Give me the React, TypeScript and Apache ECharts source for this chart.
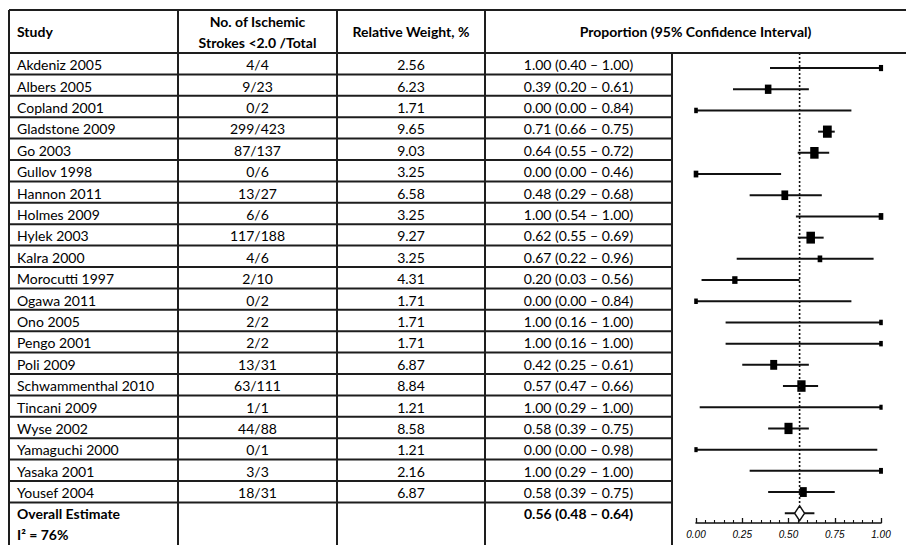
import React, { useEffect, useRef } from "react";
import * as echarts from "echarts";

const studies = [
  "Akdeniz 2005", "Albers 2005", "Copland 2001", "Gladstone 2009", "Go 2003", "Gullov 1998",
  "Hannon 2011", "Holmes 2009", "Hylek 2003", "Kalra 2000", "Morocutti 1997", "Ogawa 2011",
  "Ono 2005", "Pengo 2001", "Poli 2009", "Schwammenthal 2010", "Tincani 2009", "Wyse 2002",
  "Yamaguchi 2000", "Yasaka 2001", "Yousef 2004",
];
const strokesTotal = [
  "4/4", "9/23", "0/2", "299/423", "87/137", "0/6", "13/27", "6/6", "117/188", "4/6", "2/10",
  "0/2", "2/2", "2/2", "13/31", "63/111", "1/1", "44/88", "0/1", "3/3", "18/31",
];
const relWeight = [
  2.56, 6.23, 1.71, 9.65, 9.03, 3.25, 6.58, 3.25, 9.27, 3.25, 4.31, 1.71, 1.71, 1.71, 6.87,
  8.84, 1.21, 8.58, 1.21, 2.16, 6.87,
];
const propText = [
  "1.00 (0.40 – 1.00)", "0.39 (0.20 – 0.61)", "0.00 (0.00 – 0.84)", "0.71 (0.66 – 0.75)",
  "0.64 (0.55 – 0.72)", "0.00 (0.00 – 0.46)", "0.48 (0.29 – 0.68)", "1.00 (0.54 – 1.00)",
  "0.62 (0.55 – 0.69)", "0.67 (0.22 – 0.96)", "0.20 (0.03 – 0.56)", "0.00 (0.00 – 0.84)",
  "1.00 (0.16 – 1.00)", "1.00 (0.16 – 1.00)", "0.42 (0.25 – 0.61)", "0.57 (0.47 – 0.66)",
  "1.00 (0.29 – 1.00)", "0.58 (0.39 – 0.75)", "0.00 (0.00 – 0.98)", "1.00 (0.29 – 1.00)",
  "0.58 (0.39 – 0.75)",
];
// values as drawn in the plot panel
const plotEst = [1.0, 0.39, 0.0, 0.71, 0.64, 0.0, 0.48, 1.0, 0.62, 0.67, 0.21, 0.0, 1.0, 1.0, 0.42, 0.57, 1.0, 0.5, 0.0, 1.0, 0.58];
const plotLo = [0.4, 0.2, 0.0, 0.66, 0.55, 0.0, 0.29, 0.54, 0.55, 0.22, 0.03, 0.0, 0.16, 0.16, 0.25, 0.47, 0.02, 0.39, 0.0, 0.29, 0.39];
const plotHi = [1.0, 0.61, 0.84, 0.75, 0.72, 0.46, 0.68, 1.0, 0.69, 0.96, 0.56, 0.84, 1.0, 1.0, 0.61, 0.66, 1.0, 0.61, 0.98, 1.0, 0.75];

const overallEst = 0.56;
const overallLo = 0.48;
const overallHi = 0.64;
const overallText = "0.56 (0.48 – 0.64)";
const heterogeneityText = "I² = 76%";
const xTicks = [0, 0.25, 0.5, 0.75, 1];

const W = 906;
const H = 545;
const FONT = "Lato, 'Open Sans', sans-serif";
const LINE = "#1e1e1e";

export default function App() {
  const ref = useRef<HTMLDivElement>(null);
  useEffect(() => {
    document.body.style.margin = "0";
    const chart = echarts.init(ref.current!, null, { renderer: "svg", width: W, height: H });

    const colX = [9, 178, 337, 485, 672];
    const tableTop = 10;
    const headBottom = 53;
    const rowH = 21.4;
    const rowsBottom = headBottom + rowH * studies.length;

    const g: any[] = [];
    const hline = (x1: number, x2: number, y: number) =>
      g.push({ type: "line", shape: { x1, y1: y, x2, y2: y }, style: { stroke: LINE, lineWidth: 2 }, z: 10 });
    const vline = (x: number, y1: number, y2: number) =>
      g.push({ type: "line", shape: { x1: x, y1, x2: x, y2 }, style: { stroke: LINE, lineWidth: 2 }, z: 10 });
    const txt = (text: string, x: number, y: number, align: string, bold = false) =>
      g.push({
        type: "text",
        x,
        y,
        z: 10,
        style: {
          text,
          fill: "#000",
          font: `${bold ? "bold " : ""}14px ${FONT}`,
          textAlign: align,
          textVerticalAlign: "middle",
        },
      });

    hline(colX[0], W, tableTop);
    hline(colX[0], W, headBottom);
    for (let i = 1; i <= studies.length; i++) hline(colX[0], colX[4], headBottom + rowH * i);
    for (let c = 0; c < 4; c++) vline(colX[c], tableTop, H);
    vline(colX[4], headBottom, H);

    const cCount = (colX[1] + colX[2]) / 2;
    const cWeight = (colX[2] + colX[3]) / 2;
    const cProp = (colX[3] + colX[4]) / 2;
    txt("Study", 17, 31, "left", true);
    txt("No. of Ischemic", cCount, 21, "center", true);
    txt("Strokes <2.0 /Total", cCount, 42, "center", true);
    txt("Relative Weight, %", cWeight, 31, "center", true);
    txt("Proportion (95% Confidence Interval)", (colX[3] + W) / 2, 31, "center", true);

    studies.forEach((s, i) => {
      const y = headBottom + rowH * i + rowH / 2 + 1;
      txt(s, 17, y, "left");
      txt(strokesTotal[i], cCount, y, "center");
      txt(relWeight[i].toFixed(2), cWeight, y, "center");
      txt(propText[i], cProp, y, "center");
    });
    txt("Overall Estimate", 17, rowsBottom + 11, "left", true);
    txt(heterogeneityText, 17, rowsBottom + 32, "left", true);
    txt(overallText, cProp, rowsBottom + 11, "center", true);

    const studyData = studies.map((_, i) => [plotEst[i], plotLo[i], plotHi[i], i, relWeight[i]]);

    chart.setOption({
      animation: false,
      grid: { left: 696, right: 25, top: 53, bottom: 22 },
      xAxis: {
        type: "value",
        min: 0,
        max: 1,
        interval: 0.25,
        splitLine: { show: false },
        axisLine: { show: true, onZero: false, lineStyle: { color: "#111", width: 1.6 } },
        axisTick: { show: true, inside: true, length: 5, lineStyle: { color: "#111", width: 1.3 } },
        minorTick: { show: true, splitNumber: 5, length: 3, lineStyle: { color: "#111", width: 1.1 } },
        axisLabel: {
          color: "#000",
          fontSize: 10,
          fontStyle: "italic",
          fontFamily: "'Liberation Sans', Arial, sans-serif",
          margin: 6,
          customValues: xTicks,
          formatter: (v: number) => v.toFixed(2),
        },
      },
      yAxis: { type: "value", min: -0.71, max: 21.46, inverse: true, show: false },
      series: [
        {
          type: "line",
          data: [
            [overallEst, -0.71],
            [overallEst, 20.6],
          ],
          symbol: "none",
          lineStyle: { color: "#111", width: 1.6, type: [2, 2] },
          silent: true,
        },
        {
          type: "custom",
          data: studyData,
          encode: { x: [0, 1, 2], y: 3 },
          renderItem: (_p: any, api: any) => {
            const est = api.value(0);
            const lo = api.value(1);
            const hi = api.value(2);
            const row = api.value(3);
            const w = api.value(4);
            const a = api.coord([lo, row]);
            const b = api.coord([hi, row]);
            const e = api.coord([est, row]);
            const bw = 2.5 + 0.65 * w;
            const bh = 4 + 0.85 * w;
            return {
              type: "group",
              children: [
                { type: "line", shape: { x1: a[0], y1: a[1], x2: b[0], y2: b[1] }, style: { stroke: "#111", lineWidth: 2 } },
                { type: "rect", shape: { x: e[0] - bw / 2, y: e[1] - bh / 2, width: bw, height: bh }, style: { fill: "#000" } },
              ],
            };
          },
        },
        {
          type: "custom",
          data: [[overallEst, overallLo, overallHi, studies.length]],
          encode: { x: [0, 1, 2], y: 3 },
          renderItem: (_p: any, api: any) => {
            const row = api.value(3);
            const a = api.coord([api.value(1), row]);
            const b = api.coord([api.value(2), row]);
            const e = api.coord([api.value(0), row]);
            return {
              type: "group",
              children: [
                { type: "line", shape: { x1: a[0], y1: a[1], x2: b[0], y2: b[1] }, style: { stroke: "#111", lineWidth: 2 } },
                {
                  type: "polygon",
                  shape: {
                    points: [
                      [e[0], e[1] - 7.5],
                      [e[0] + 5, e[1]],
                      [e[0], e[1] + 7.5],
                      [e[0] - 5, e[1]],
                    ],
                  },
                  style: { fill: "#fff", stroke: "#111", lineWidth: 1.4 },
                },
              ],
            };
          },
        },
      ],
      graphic: g,
    });
    return () => chart.dispose();
  }, []);
  return <div ref={ref} style={{ width: W, height: H, background: "#fff" }} />;
}
